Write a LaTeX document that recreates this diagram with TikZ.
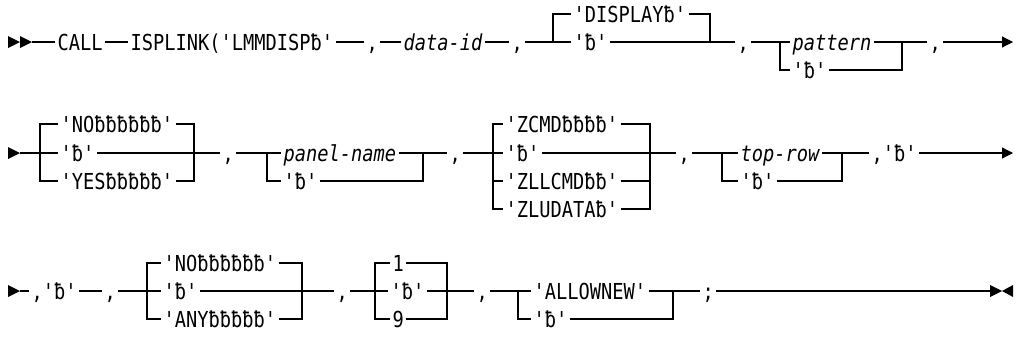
\documentclass[tikz,border=0pt]{standalone}
\usepackage{fontspec}
\usetikzlibrary{arrows.meta}
\newfontfamily\rr[FakeStretch=0.85,ItalicFont={DejaVu Sans Mono Oblique}]{DejaVu Sans Mono}
\begin{document}
\begin{tikzpicture}[x=1pt,y=-1pt,line width=1.1pt,line join=miter,
  t/.style={anchor=west,inner xsep=2pt,inner ysep=0pt,text height=21pt,text depth=5pt,
    font=\rr\fontsize{22}{22}\selectfont},
  it/.style={font=\rr\itshape\fontsize{22}{22}\selectfont},
  endarrow/.style={-{Triangle[length=11pt,width=11pt]}}]
\useasboundingbox (0,0) rectangle (1016,348);
% ---------------- row 1
\fill (8,36) -- (20,42) -- (8,48) -- cycle;
\fill (20,36) -- (32,42) -- (20,48) -- cycle;
\coordinate (s1) at (32,42);
\node[t] (call) at (55,42) {CALL};
\node[t] (isp) at (128,42) {ISPLINK('LMMDISPƀ'};
\node[t] (c1) at (364,42) {,};
\node[t,it] (dataid) at (401,42) {data-id};
\node[t] (c2) at (509,42) {,};
\coordinate (j1a) at (553,42);
\node[t] (disp) at (571,14) {'DISPLAYƀ'};
\node[t] (b1) at (571,42) {'ƀ'};
\coordinate (j1b) at (710,42);
\node[t] (c3) at (735,42) {,};
\coordinate (j2a) at (780,42);
\node[t,it] (pat) at (790,42) {pattern};
\node[t] (b2) at (790,70) {'ƀ'};
\coordinate (j2b) at (902,42);
\node[t] (c4) at (927,42) {,};
\coordinate (e1) at (1013,42);
\draw (s1) -- (call) -- (isp) -- (c1) -- (dataid) -- (c2) -- (j1a) -- (b1) -- (j1b) -- (c3)
      -- (j2a) -- (pat) -- (j2b) -- (c4);
\draw (j1a) |- (disp.west);
\draw (disp.east) -| (j1b);
\draw (j2a) |- (b2.west);
\draw (b2.east) -| (j2b);
\draw[endarrow] (c4) -- (e1);
% ---------------- row 2
\fill (8,147) -- (20,153) -- (8,159) -- cycle;
\coordinate (s2) at (20,153);
\coordinate (j3a) at (40,153);
\node[t] (no1) at (58,124) {'NOƀƀƀƀƀƀ'};
\node[t] (b3) at (58,153) {'ƀ'};
\node[t] (yes) at (58,181) {'YESƀƀƀƀƀ'};
\coordinate (j3b) at (194,153);
\node[t] (c5) at (220,153) {,};
\coordinate (j4a) at (267,153);
\node[t,it] (pn) at (281,153) {panel-name};
\node[t] (b4) at (281,181) {'ƀ'};
\coordinate (j4b) at (423,153);
\node[t] (c6) at (447,153) {,};
\coordinate (j5a) at (493,153);
\node[t] (zcmd) at (503,124) {'ZCMDƀƀƀƀ'};
\node[t] (b5) at (503,153) {'ƀ'};
\node[t] (zll) at (503,181) {'ZLLCMDƀƀ'};
\node[t] (zlu) at (503,209) {'ZLUDATAƀ'};
\coordinate (j5b) at (650,153);
\node[t] (c7) at (676,153) {,};
\coordinate (j6a) at (722,153);
\node[t,it] (tr) at (738,153) {top-row};
\node[t] (b6) at (738,181) {'ƀ'};
\coordinate (j6b) at (842,153);
\node[t] (cb) at (869,153) {,'ƀ'};
\coordinate (e2) at (1013,153);
\draw (s2) -- (j3a) -- (b3) -- (j3b) -- (c5) -- (j4a) -- (pn) -- (j4b) -- (c6) -- (j5a)
      -- (b5) -- (j5b) -- (c7) -- (j6a) -- (tr) -- (j6b) -- (cb);
\draw (no1.west) -| (j3a) |- (yes.west);
\draw (no1.east) -| (j3b) |- (yes.east);
\draw (j4a) |- (b4.west);
\draw (b4.east) -| (j4b);
\draw (zcmd.west) -| (j5a) |- (zlu.west);
\draw (j5a) |- (zll.west);
\draw (zcmd.east) -| (j5b) |- (zlu.east);
\draw (zll.east) -| (j5b);
\draw (j6a) |- (b6.west);
\draw (b6.east) -| (j6b);
\draw[endarrow] (cb) -- (e2);
% ---------------- row 3
\fill (8,285) -- (20,291) -- (8,297) -- cycle;
\coordinate (s3) at (20,291);
\node[t] (cb2) at (29,291) {,'ƀ'};
\node[t] (c9) at (102,291) {,};
\coordinate (j7a) at (147,291);
\node[t] (no2) at (161,263) {'NOƀƀƀƀƀƀ'};
\node[t] (b8) at (161,291) {'ƀ'};
\node[t] (any) at (161,319) {'ANYƀƀƀƀƀ'};
\coordinate (j7b) at (302,291);
\node[t] (c10) at (334,291) {,};
\coordinate (j8a) at (375,291);
\node[t] (one) at (390,263) {1};
\node[t] (b9) at (388,291) {'ƀ'};
\node[t] (nine) at (390,319) {9};
\coordinate (j8b) at (447,291);
\node[t] (c11) at (474,291) {,};
\coordinate (j9a) at (518,291);
\node[t] (allow) at (531,291) {'ALLOWNEW'};
\node[t] (b10) at (531,319) {'ƀ'};
\coordinate (j9b) at (673,291);
\node[t] (semi) at (700,291) {;};
\coordinate (e3) at (990,291);
\draw (s3) -- (cb2) -- (c9) -- (j7a) -- (b8) -- (j7b) -- (c10) -- (j8a) -- (b9) -- (j8b)
      -- (c11) -- (j9a) -- (allow) -- (j9b) -- (semi) -- (e3);
\draw (no2.west) -| (j7a) |- (any.west);
\draw (no2.east) -| (j7b) |- (any.east);
\draw (one.west) -| (j8a) |- (nine.west);
\draw (one.east) -| (j8b) |- (nine.east);
\draw (j9a) |- (b10.west);
\draw (b10.east) -| (j9b);
\fill (990,285) -- (1002,291) -- (990,297) -- cycle;
\fill (1013,285) -- (1002,291) -- (1013,297) -- cycle;
\end{tikzpicture}
\end{document}
